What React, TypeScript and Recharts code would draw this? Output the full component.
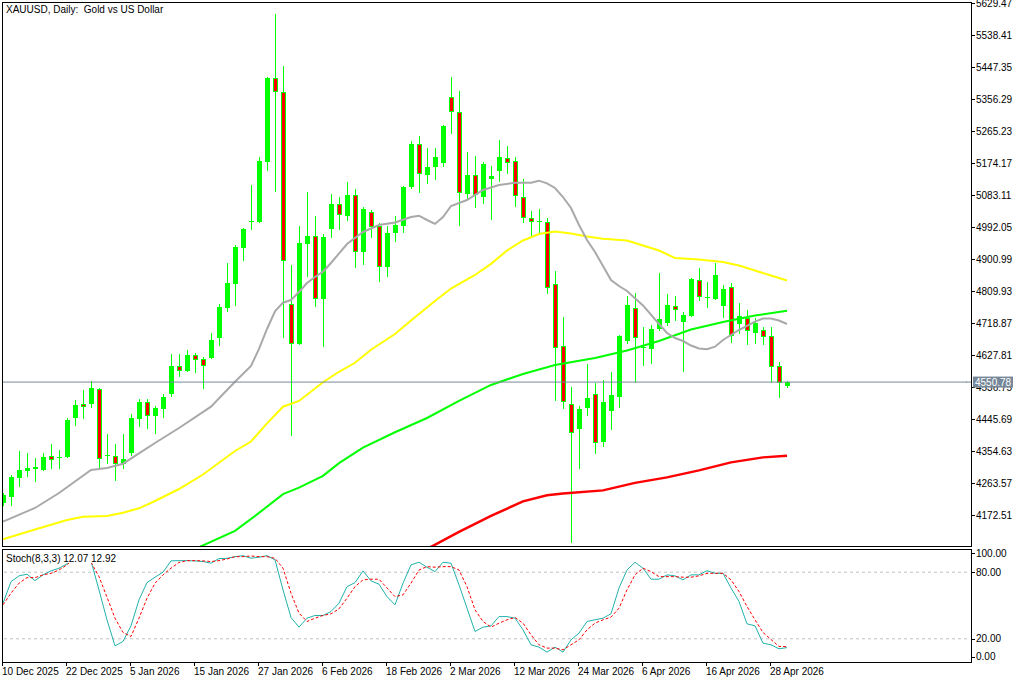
import React from 'react';
import { ComposedChart, Bar, Line, XAxis, YAxis, ReferenceLine } from 'recharts';

// ---- Candles (XAUUSD daily, 10 Dec 2025 .. 30 Apr 2026) ----
const opens = [4206.7,4223.7,4277.8,4297.7,4307.7,4300.6,4340.4,4333.3,4338.5,4448.6,4488.4,4488.4,4531.1,4339.0,4340.4,4317.6,4348.9,4445.7,4494.1,4454.3,4474.2,4516.9,4596.5,4583.7,4627.8,4616.4,4620.1,4676.2,4761.5,4829.9,4932.3,5006.3,5007.2,5177.8,5415.2,5375.4,4772.9,4659.1,4943.7,4966.5,4787.1,4986.4,5057.5,5023.4,5083.1,4920.9,5034.8,4994.9,4878.3,4975.0,4994.9,5105.9,5228.2,5140.0,5162.8,5174.2,5362.0,5319.3,5086.0,5140.0,5077.4,5129.1,5151.4,5188.4,5179.8,5077.4,5017.7,5004.9,5006.3,4829.9,4653.4,4488.4,4417.3,4477.0,4516.9,4380.2,4468.5,4508.3,4667.6,4761.5,4647.7,4644.9,4701.8,4718.9,4767.2,4721.7,4738.8,4841.2,4790.0,4787.1,4767.2,4821.3,4716.0,4733.6,4690.4,4699.0,4682.9,4596.5,4541.0];
const highs = [4235.1,4286.3,4354.6,4348.9,4334.7,4348.9,4374.5,4357.5,4448.6,4499.8,4528.3,4553.9,4534.0,4403.1,4374.5,4403.1,4460.0,4502.6,4502.6,4482.7,4516.9,4630.6,4630.6,4642.0,4633.3,4622.1,4690.4,4772.9,4889.6,4940.9,4989.2,5111.6,5191.2,5420.3,5598.2,5450.2,4883.8,4994.9,5091.7,5023.4,4972.2,5086.0,5077.4,5120.1,5100.2,5049.0,5040.5,5003.5,4994.9,5023.4,5108.7,5236.8,5251.0,5216.8,5216.8,5282.2,5418.9,5379.0,5205.4,5194.0,5177.0,5165.6,5239.6,5222.5,5191.2,5129.1,5037.6,5043.3,5017.7,4867.0,4735.9,4536.9,4482.7,4602.2,4548.2,4556.7,4579.4,4685.8,4795.7,4804.3,4707.5,4713.2,4861.3,4801.4,4795.7,4750.1,4846.9,4875.6,4835.5,4889.6,4827.0,4832.7,4776.1,4755.8,4733.6,4707.5,4707.5,4607.9,4553.9];
const lows = [4201.0,4201.0,4255.0,4283.5,4269.3,4300.6,4306.3,4306.3,4337.6,4428.7,4448.6,4479.9,4309.1,4320.5,4272.1,4306.3,4343.2,4425.8,4420.1,4405.9,4451.4,4511.2,4568.0,4582.3,4579.4,4534.0,4619.3,4656.3,4753.0,4770.1,4898.2,4986.4,5006.3,5154.2,5095.3,4680.1,4400.2,4659.1,4852.6,4767.2,4653.4,4963.6,4986.4,5012.0,4878.3,4886.8,4963.6,4838.4,4852.6,4952.2,4977.9,5103.0,5091.7,5117.8,5129.1,5165.6,5259.4,4997.8,5074.6,5049.0,5060.4,5014.8,5123.5,5145.7,5051.8,5006.3,4963.6,4972.2,4804.3,4499.8,4477.0,4095.7,4306.3,4457.1,4348.9,4368.8,4417.3,4479.9,4662.0,4550.9,4599.3,4605.0,4699.0,4713.2,4727.4,4582.3,4738.8,4784.3,4764.4,4787.1,4735.9,4665.4,4690.4,4659.1,4662.0,4659.1,4550.9,4508.3,4536.9];
const closes = [4229.4,4280.7,4300.6,4306.3,4302.0,4337.6,4329.9,4337.6,4442.9,4485.6,4479.9,4534.0,4331.8,4341.9,4317.6,4331.8,4448.6,4494.1,4454.3,4477.0,4508.3,4596.5,4583.7,4627.8,4613.6,4596.5,4670.5,4764.4,4832.7,4935.2,4986.4,5009.2,5179.8,5416.9,5375.4,4894.6,4659.1,4946.5,4966.5,4787.1,4963.6,5057.5,5026.3,5083.1,4920.9,5043.3,4992.1,4878.3,4975.0,4997.8,5105.9,5228.2,5142.9,5162.8,5191.2,5279.4,5319.3,5088.8,5140.0,5083.1,5171.3,5137.2,5191.2,5174.2,5080.3,5017.7,5006.3,5009.2,4818.5,4647.7,4494.1,4405.9,4474.2,4505.5,4377.4,4494.1,4514.0,4682.9,4770.1,4676.2,4650.6,4701.8,4730.3,4770.1,4755.8,4741.6,4844.1,4792.8,4792.8,4855.5,4815.6,4682.9,4738.8,4696.2,4718.9,4679.1,4594.7,4548.1,4550.78];

// ---- Moving averages, read as [bar index, price] ----
const maGray: [number, number][] = [[0,4153.5],[4,4192.5],[7,4235.1],[11,4300.6],[13,4306.3],[15,4318.5],[19,4377.4],[22,4420.1],[26,4480.7],[29,4551.8],[31,4596.5],[32,4645.0],[33,4701.8],[34,4752.1],[35,4776.7],[36,4784.3],[37,4807.1],[38,4832.7],[39,4849.8],[40,4864.9],[41,4889.6],[43,4943.7],[45,4977.9],[47,4997.8],[49,5004.9],[51,5020.6],[52,5024.3],[53,5012.0],[54,5000.8],[55,5020.6],[56,5051.8],[58,5068.9],[60,5097.4],[62,5111.6],[64,5118.2],[66,5118.2],[67,5123.9],[68,5116.4],[69,5103.0],[70,5077.4],[71,5046.1],[72,4997.8],[73,4955.1],[74,4920.9],[75,4881.1],[76,4841.2],[77,4824.2],[78,4810.0],[80,4769.0],[82,4716.0],[83,4690.4],[84,4676.2],[85,4667.6],[86,4654.8],[87,4646.3],[88,4644.0],[89,4651.4],[90,4670.5],[91,4684.8],[92,4699.0],[93,4710.4],[94,4722.6],[95,4731.7],[96,4731.7],[97,4726.0],[98,4716.0]];
const maYellow: [number, number][] = [[0,4103.4],[4,4131.3],[8,4158.3],[10,4167.7],[13,4169.7],[15,4179.1],[17,4191.6],[19,4212.4],[22,4246.5],[25,4287.8],[29,4354.6],[31,4381.6],[33,4433.4],[35,4480.7],[37,4497.0],[40,4550.2],[42,4580.1],[44,4605.7],[46,4642.7],[49,4687.5],[51,4726.0],[54,4781.5],[56,4817.0],[59,4855.5],[61,4887.1],[63,4925.1],[65,4953.7],[67,4972.1],[69,4979.3],[71,4973.6],[73,4965.0],[75,4958.5],[78,4953.7],[80,4939.5],[82,4925.1],[84,4903.8],[87,4899.5],[90,4892.4],[92,4882.4],[94,4868.2],[96,4854.0],[98,4839.8]];
const maGreen: [number, number][] = [[24,4075.7],[29,4127.3],[32,4178.5],[35,4231.8],[37,4250.6],[40,4283.9],[42,4320.0],[45,4364.4],[49,4408.0],[53,4448.6],[57,4497.0],[61,4542.6],[65,4573.9],[69,4599.5],[74,4619.4],[78,4640.8],[82,4667.6],[86,4700.4],[90,4721.7],[94,4740.2],[98,4753.9]];
const maRed: [number, number][] = [[53,4075.7],[57,4124.5],[61,4170.0],[65,4211.3],[68,4228.9],[70,4233.5],[75,4242.6],[79,4264.0],[83,4279.6],[87,4299.5],[91,4322.3],[95,4336.5],[98,4340.8]];

// ---- Stochastic (8,3,3) ----
const stochK = [52.1,71.5,76.7,78.2,72.4,77.6,81.2,83.6,87.5,96,98,90,64,37,13.7,17.6,31.7,55.1,70.6,75.5,80,90.2,90.4,90.4,90.2,89.6,88.1,92.3,92.5,94,94.9,92.6,93.5,94.9,91.1,64.1,39.2,30.5,38.6,41,41,44.6,52.1,67,70.6,81.2,72.2,69.2,58,50.6,70.1,86.6,89,84.5,80.5,89,88.1,68.6,47.6,26.6,30.5,31.7,40,40,38.6,28.1,14.6,12.5,8,12.5,8,19.1,25.1,35.6,37.1,38.6,42.5,65.8,82,89,83.6,73.7,73.7,77.6,76.7,73.1,77.6,77.6,81.4,79,79,65.8,53.6,33.5,31.7,16.1,14.6,11,12.07];
const stochD = [50.6,61.1,70.1,75.1,75.1,77.6,79,82,86.6,93,96,89,76,57.5,38.6,25.7,22.1,38.6,56.6,70.1,77.6,83.6,88.8,90.4,90.4,90.2,89.6,90.4,91.9,94,94,94.6,94,94,92.5,83.6,61.1,43.1,35.6,38.6,41,42.5,47,56.6,67,73.1,73.7,73.7,65.8,58,59.6,70.1,82,85,84.5,85,85,82,67,46.1,35.6,30.5,34.1,37.1,39.2,34.1,23.6,14.6,11.6,11.6,10.1,14.6,19.1,28.1,34.1,37.1,39.5,47.6,64.1,77.6,83.6,80.5,76,76,76,75.5,75.5,76.7,79,79,79,73.1,62.6,49.1,37.1,25.7,19.4,13.1,12.92];

// ---- Axis labels ----
const dateTickIndex = [0,8,16,24,32,40,48,56,64,72,80,88,96];
const dateTickLabels = ['10 Dec 2025','22 Dec 2025','5 Jan 2026','15 Jan 2026','27 Jan 2026','6 Feb 2026','18 Feb 2026','2 Mar 2026','12 Mar 2026','24 Mar 2026','6 Apr 2026','16 Apr 2026','28 Apr 2026'];
const priceTicks = [4172.51,4263.57,4354.63,4445.69,4536.75,4627.81,4718.87,4809.93,4900.99,4992.05,5083.11,5174.17,5265.23,5356.29,5447.35,5538.41,5629.47];
const priceDomain = [4081.46, 5629.47];
const stochTicks = [0, 20, 80, 100];
const lastPrice = 4550.78;
const SLOTS = 121;

const FONT = "'Liberation Sans', Arial, sans-serif";
const LIME = '#00FF00';
const TAG = '#778899';

const spread = (pairs: [number, number][]) => {
  const arr: (number | null)[] = new Array(SLOTS).fill(null);
  pairs.forEach(([i, v]) => { arr[i] = v; });
  return arr;
};
const gArr = spread(maGray), yArr = spread(maYellow), grArr = spread(maGreen), rArr = spread(maRed);

const mainData = Array.from({ length: SLOTS }, (_, i) => {
  const base: any = { idx: i, gray: gArr[i], yellow: yArr[i], green: grArr[i], red: rArr[i] };
  if (i < opens.length) {
    base.o = opens[i]; base.h = highs[i]; base.l = lows[i]; base.c = closes[i];
    base.range = [lows[i], highs[i]];
  } else {
    base.range = null;
  }
  return base;
});

const stochData = Array.from({ length: SLOTS }, (_, i) => ({
  idx: i,
  k: i < stochK.length ? stochK[i] : null,
  d: i < stochD.length ? stochD[i] : null,
}));

const Candle = (props: any) => {
  const { x, y, width, height, payload } = props;
  if (!payload || payload.o == null || y == null || isNaN(y)) return null;
  const { o, h, l, c } = payload;
  const top = Math.min(y, y + height);
  const bot = Math.max(y, y + height);
  const span = h - l || 1;
  const py = (v: number) => top + ((h - v) / span) * (bot - top);
  const cx = Math.round(x + width / 2) + 0.5;
  const bull = c >= o;
  const b1 = Math.round(Math.min(py(o), py(c)));
  const b2 = Math.round(Math.max(py(o), py(c)));
  return (
    <g>
      <line x1={cx} x2={cx} y1={Math.round(top)} y2={Math.round(bot) + 1} stroke={LIME} strokeWidth={1} shapeRendering="crispEdges" />
      {b2 - b1 < 2 ? (
        <line x1={cx - 2.5} x2={cx + 2.5} y1={b1 + 0.5} y2={b1 + 0.5} stroke={LIME} strokeWidth={1} shapeRendering="crispEdges" />
      ) : (
        <rect x={cx - 2} y={b1 + 0.5} width={4} height={b2 - b1 - 1} fill={bull ? LIME : '#FF0000'} stroke={LIME} strokeWidth={1} shapeRendering="crispEdges" />
      )}
    </g>
  );
};

// SVG of the charts is shifted 4px left of the page
const SX = 4;

// price labels; the last-price tick is listed last so its box covers the label beneath it
const PriceTick = (props: any) => {
  const { y, payload } = props;
  const v = Number(payload.value);
  if (v === lastPrice) {
    return (
      <g>
        <line x1={966 + SX} x2={972 + SX} y1={y} y2={y} stroke={TAG} strokeWidth={1} />
        <rect x={973 + SX} y={y - 5.5} width={40} height={11} fill={TAG} />
        <text x={975 + SX} y={y} dominantBaseline="central" fontSize={10} fontFamily={FONT} fill="#FFFFFF">
          {v.toFixed(2)}
        </text>
      </g>
    );
  }
  const yy = Math.round(y) + 0.5;
  return (
    <g>
      <line x1={972 + SX} x2={975 + SX} y1={yy} y2={yy} stroke="#000" strokeWidth={1} />
      <text x={976 + SX} y={y} dominantBaseline="central" fontSize={10} fontFamily={FONT} fill="#000">
        {v.toFixed(2)}
      </text>
    </g>
  );
};

const StochTick = (props: any) => {
  const { y, payload } = props;
  const v = Number(payload.value);
  const adj = v === 100 ? 3 : v === 0 ? -4.5 : 0;
  const yy = Math.round(y + adj) + 0.5;
  return (
    <g>
      <line x1={972 + SX} x2={975 + SX} y1={yy} y2={yy} stroke="#000" strokeWidth={1} />
      <text x={976 + SX} y={y + adj} dominantBaseline="central" fontSize={10} fontFamily={FONT} fill="#000">
        {v.toFixed(2)}
      </text>
    </g>
  );
};

const DateTick = (props: any) => {
  const { x, payload } = props;
  const k = dateTickIndex.indexOf(Number(payload.value));
  if (k < 0) return null;
  const tx = Math.round(x) - 0.5;
  return (
    <g>
      <line x1={tx} x2={tx} y1={114} y2={118} stroke="#000" strokeWidth={1} />
      <text x={tx - 0.5} y={127} fontSize={10} fontFamily={FONT} fill="#000">{dateTickLabels[k]}</text>
    </g>
  );
};

export default function App() {
  return (
    <div style={{ position: 'absolute', left: 0, top: 0, width: 1024, height: 683, background: '#fff', overflow: 'hidden' }}>
      <div style={{ position: 'absolute', left: -SX, top: 0 }}>
        <ComposedChart width={1028} height={549} data={mainData} margin={{ top: 3, right: 7, bottom: 2, left: 3 }} barCategoryGap={0} barGap={0}>
          <XAxis dataKey="idx" type="category" scale="band" hide />
          <YAxis orientation="right" width={50} domain={priceDomain} ticks={[...priceTicks, lastPrice]} interval={0} allowDataOverflow axisLine={false} tickLine={false} tick={<PriceTick />} />
          <Bar dataKey="range" isAnimationActive={false} shape={(p: any) => <Candle {...p} />} />
          <Line dataKey="red" stroke="#FF0000" strokeWidth={2.5} dot={false} connectNulls isAnimationActive={false} />
          <Line dataKey="green" stroke={LIME} strokeWidth={2} dot={false} connectNulls isAnimationActive={false} />
          <Line dataKey="yellow" stroke="#FFFF00" strokeWidth={2} dot={false} connectNulls isAnimationActive={false} />
          <Line dataKey="gray" stroke="#A9A9A9" strokeWidth={2} dot={false} connectNulls isAnimationActive={false} />
          <ReferenceLine y={lastPrice} stroke={TAG} strokeWidth={1} />
        </ComposedChart>
      </div>
      <div style={{ position: 'absolute', left: -SX, top: 548 }}>
        <ComposedChart width={1028} height={135} data={stochData} margin={{ top: 2, right: 7, bottom: 2, left: 3 }}>
          <XAxis dataKey="idx" type="category" scale="band" ticks={dateTickIndex} interval={0} axisLine={false} tickLine={false} height={20} tick={<DateTick />} />
          <YAxis orientation="right" width={50} domain={[0, 100]} ticks={stochTicks} interval={0} axisLine={false} tickLine={false} tick={<StochTick />} />
          <ReferenceLine y={80} stroke="#C0C0C0" strokeDasharray="3 3" />
          <ReferenceLine y={20} stroke="#C0C0C0" strokeDasharray="3 3" />
          <Line dataKey="k" stroke="#20B2AA" strokeWidth={1} dot={false} isAnimationActive={false} />
          <Line dataKey="d" stroke="#FF0000" strokeWidth={1} strokeDasharray="3 2" dot={false} isAnimationActive={false} />
        </ComposedChart>
      </div>
      <svg width={1024} height={683} style={{ position: 'absolute', left: 0, top: 0, pointerEvents: 'none' }}>
        <rect x={0} y={0} width={2} height={683} fill="#fff" />
        <rect x={2} y={547} width={970} height={2} fill="#fff" />
        <g stroke="#000" strokeWidth={1} shapeRendering="crispEdges">
          <line x1={2} x2={972} y1={2.5} y2={2.5} />
          <line x1={2} x2={972} y1={546.5} y2={546.5} />
          <line x1={2} x2={972} y1={549.5} y2={549.5} />
          <line x1={2} x2={972} y1={662.5} y2={662.5} />
          <line x1={2.5} x2={2.5} y1={2} y2={547} />
          <line x1={971.5} x2={971.5} y1={2} y2={547} />
          <line x1={2.5} x2={2.5} y1={549} y2={663} />
          <line x1={971.5} x2={971.5} y1={549} y2={663} />
        </g>
        <text x={6} y={13} fontSize={10} fontFamily={FONT} fill="#000" style={{ whiteSpace: 'pre' }}>{'XAUUSD, Daily:  Gold vs US Dollar'}</text>
        <rect x={4} y={551} width={104} height={12} fill="#fff" />
        <text x={6} y={562} fontSize={10} fontFamily={FONT} fill="#000" style={{ whiteSpace: 'pre' }}>{`Stoch(8,3,3) ${stochK[stochK.length - 1].toFixed(2)} ${stochD[stochD.length - 1].toFixed(2)}`}</text>
      </svg>
    </div>
  );
}
